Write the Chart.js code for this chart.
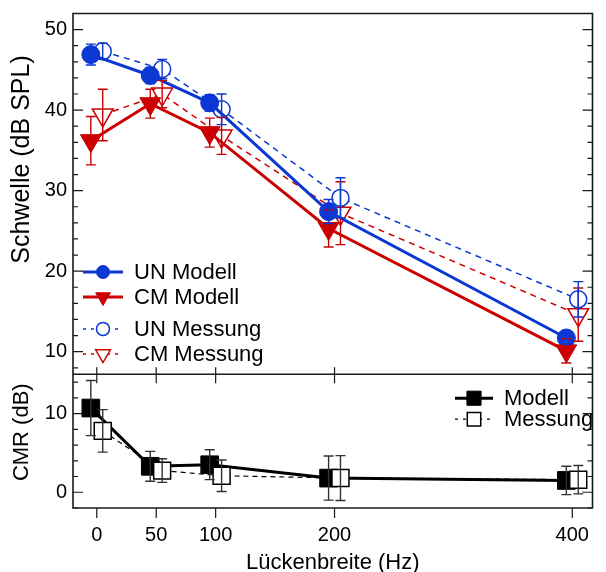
<!DOCTYPE html>
<html>
<head>
<meta charset="utf-8">
<script src="https://cdn.jsdelivr.net/npm/chart.js@4/dist/chart.umd.min.js"></script>
<style>
  html, body { margin: 0; padding: 0; background: #fff; }
  #wrap { width: 606px; height: 572px; }
</style>
</head>
<body>
<div id="wrap"><canvas id="cmrChart" width="606" height="572"></canvas></div>
<script>
"use strict";

// gap widths (Hz) and thresholds
const gapWidths   = [0, 50, 100, 200, 400];
const unModell    = [46.9, 44.3, 40.9, 27.4, 11.7];
const unModellErr = [1.3, 1.0, 1.0, 1.5, 0.8];
const cmModell    = [36.2, 40.8, 37.2, 25.3, 10.1];
const cmModellErr = [3.0, 1.8, 1.8, 2.3, 1.5];
const unMessung    = [47.3, 45.1, 40.1, 29.1, 16.5];
const unMessungErr = [1.0, 1.2, 1.9, 2.5, 2.2];
const cmMessung    = [39.4, 42.0, 36.8, 27.2, 14.6];
const cmMessungErr = [3.2, 1.7, 2.3, 3.9, 3.3];

// CMR panel
const cmrModell     = [10.7, 3.3, 3.5, 1.8, 1.5];
const cmrModellErr  = [3.5, 1.9, 1.9, 2.8, 1.8];
const cmrMessung    = [7.8, 2.75, 2.1, 1.8, 1.6];
const cmrMessungErr = [2.7, 1.5, 2.0, 2.85, 1.8];

// tick labels
const xTicks   = [0, 50, 100, 200, 400];
const yTicks   = [10, 20, 30, 40, 50];
const cmrTicks = [0, 10];

const BLUE = "#0b37d2";
const RED  = "#cc0000";
const FONT = "'Liberation Sans', Arial, Helvetica, sans-serif";

// model markers sit a little left of the tick, measurements a little right
const SHIFT_MODEL = -5;
const SHIFT_MESS  = 5;

function pts(vals, shift) {
  return gapWidths.map((g, i) => ({ x: g + shift, y: vals[i] }));
}

function noPad(s) {
  s.paddingLeft = 0; s.paddingRight = 0; s.paddingTop = 0; s.paddingBottom = 0;
}

Chart.defaults.font.family = FONT;
Chart.defaults.font.size = 20;
Chart.defaults.color = "#000";

const errorBars = {
  id: "errorBars",
  afterDatasetsDraw(chart) {
    const ctx = chart.ctx;
    chart.data.datasets.forEach((ds, i) => {
      if (!ds.err) return;
      const meta = chart.getDatasetMeta(i);
      const ys = chart.scales[ds.yAxisID];
      ctx.save();
      ctx.strokeStyle = ds.errColor || ds.borderColor;
      ctx.lineWidth = 1.4;
      ctx.setLineDash([]);
      ctx.beginPath();
      meta.data.forEach((pt, j) => {
        const v = ds.data[j].y;
        const top = ys.getPixelForValue(v + ds.err[j]);
        const bot = ys.getPixelForValue(v - ds.err[j]);
        ctx.moveTo(pt.x, top); ctx.lineTo(pt.x, bot);
        ctx.moveTo(pt.x - 5, top); ctx.lineTo(pt.x + 5, top);
        ctx.moveTo(pt.x - 5, bot); ctx.lineTo(pt.x + 5, bot);
      });
      ctx.stroke();
      ctx.restore();
    });
  }
};

const frame = {
  id: "frame",
  beforeDatasetsDraw(chart) {
    const { ctx, chartArea: a, scales: { x, y, cmr } } = chart;
    ctx.save();
    ctx.strokeStyle = "#1a1a1a";
    ctx.lineWidth = 1.6;
    ctx.beginPath();
    ctx.rect(a.left, y.top, a.right - a.left, y.bottom - y.top);
    ctx.moveTo(a.left, cmr.top); ctx.lineTo(a.left, cmr.bottom);
    ctx.lineTo(a.right, cmr.bottom); ctx.lineTo(a.right, cmr.top);
    ctx.stroke();

    ctx.lineWidth = 1.2;
    ctx.beginPath();
    const sideTicks = (sc) => {
      for (let v = Math.ceil(sc.min / 2) * 2; v <= sc.max; v += 2) {
        const py = sc.getPixelForValue(v);
        const len = v % 10 === 0 ? 10 : 5;
        ctx.moveTo(a.left, py);  ctx.lineTo(a.left + len, py);
        ctx.moveTo(a.right, py); ctx.lineTo(a.right - len, py);
      }
    };
    sideTicks(y);
    sideTicks(cmr);
    xTicks.forEach(g => {
      const px = x.getPixelForValue(g);
      ctx.moveTo(px, y.bottom - 7); ctx.lineTo(px, y.bottom + 9);
      ctx.moveTo(px, cmr.bottom);   ctx.lineTo(px, cmr.bottom + 10);
    });
    ctx.stroke();
    ctx.restore();
  }
};

// rotated y-axis titles, placed like in the original figure
const sideTitles = {
  id: "sideTitles",
  afterDraw(chart) {
    const { ctx, scales: { y, cmr } } = chart;
    const items = [
      { text: "Schwelle (dB SPL)", cy: y.top + 146, size: 25 },
      { text: "CMR (dB)", cy: cmr.top + 58, size: 22 }
    ];
    ctx.save();
    ctx.fillStyle = "#000";
    ctx.textAlign = "center";
    ctx.textBaseline = "middle";
    items.forEach(t => {
      ctx.save();
      ctx.translate(22, t.cy);
      ctx.rotate(-Math.PI / 2);
      ctx.font = t.size + "px " + FONT;
      ctx.fillText(t.text, 0, 0);
      ctx.restore();
    });
    ctx.restore();
  }
};

function marker(ctx, ds, radius, px, py) {
  const opts = { pointStyle: ds.pointStyle, rotation: ds.pointRotation || 0, radius, borderWidth: ds.pointBorderWidth || 1 };
  ctx.fillStyle = ds.pointBackgroundColor;
  ctx.strokeStyle = ds.borderColor;
  ctx.lineWidth = opts.borderWidth;
  ctx.setLineDash([]);
  if (Chart.helpers && Chart.helpers.drawPoint) {
    Chart.helpers.drawPoint(ctx, opts, px, py);
  } else {
    ctx.beginPath(); ctx.arc(px, py, radius, 0, Math.PI * 2); ctx.fill(); ctx.stroke();
  }
}

const legendBox = {
  id: "legendBox",
  afterDraw(chart) {
    const { ctx, chartArea: a, scales: { cmr } } = chart;
    const ds = chart.data.datasets;
    const byLabel = l => ds.find(d => d.label === l);
    const rows = [
      { label: "UN Modell",  x: a.left + 10, y: 272, w: 40, r: 6.5 },
      { label: "CM Modell",  x: a.left + 10, y: 297, w: 40, r: 8.5 },
      { label: "UN Messung", x: a.left + 10, y: 329, w: 40, r: 6.5 },
      { label: "CM Messung", x: a.left + 10, y: 354, w: 40, r: 8.5 },
      { label: "Modell",  key: "CMR Modell",  x: 455, y: cmr.top + 24, w: 38, r: 10 },
      { label: "Messung", key: "CMR Messung", x: 455, y: cmr.top + 45, w: 38, r: 9.5 }
    ];
    ctx.save();
    rows.forEach(row => {
      const d = byLabel(row.key || row.label);
      const mid = row.x + row.w / 2;
      ctx.strokeStyle = d.borderColor;
      ctx.lineWidth = d.borderWidth;
      ctx.setLineDash(d.borderDash ? [3, 5] : []);
      ctx.beginPath();
      ctx.moveTo(row.x, row.y); ctx.lineTo(row.x + row.w, row.y);
      ctx.stroke();
      marker(ctx, d, row.r, mid, row.y);
      ctx.fillStyle = "#000";
      ctx.font = "22px " + FONT;
      ctx.textBaseline = "middle";
      ctx.textAlign = "left";
      ctx.fillText(row.label, row.x + row.w + 11, row.y + 1);
    });
    ctx.restore();
  }
};

new Chart(document.getElementById("cmrChart"), {
  type: "line",
  data: {
    datasets: [
      { label: "CM Modell", yAxisID: "y", data: pts(cmModell, SHIFT_MODEL), err: cmModellErr,
        borderColor: RED, borderWidth: 3, pointStyle: "triangle", pointRotation: 180, pointRadius: 12,
        pointBackgroundColor: RED, pointBorderColor: RED, pointBorderWidth: 1 },
      { label: "UN Modell", yAxisID: "y", data: pts(unModell, SHIFT_MODEL), err: unModellErr,
        borderColor: BLUE, borderWidth: 3, pointStyle: "circle", pointRadius: 9,
        pointBackgroundColor: BLUE, pointBorderColor: BLUE, pointBorderWidth: 1 },
      { label: "CM Messung", yAxisID: "y", data: pts(cmMessung, SHIFT_MESS), err: cmMessungErr,
        borderColor: RED, borderWidth: 1.5, borderDash: [6, 5], pointStyle: "triangle", pointRotation: 180, pointRadius: 12,
        pointBackgroundColor: "#fff", pointBorderColor: RED, pointBorderWidth: 1.5 },
      { label: "UN Messung", yAxisID: "y", data: pts(unMessung, SHIFT_MESS), err: unMessungErr,
        borderColor: BLUE, borderWidth: 1.5, borderDash: [6, 5], pointStyle: "circle", pointRadius: 8.5,
        pointBackgroundColor: "#fff", pointBorderColor: BLUE, pointBorderWidth: 1.5 },
      { label: "CMR Messung", yAxisID: "cmr", data: pts(cmrMessung, SHIFT_MESS), err: cmrMessungErr, errColor: "#333",
        borderColor: "#000", borderWidth: 1.2, borderDash: [5, 4], pointStyle: "rect", pointRadius: 12,
        pointBackgroundColor: "#fff", pointBorderColor: "#000", pointBorderWidth: 1.5 },
      { label: "CMR Modell", yAxisID: "cmr", data: pts(cmrModell, SHIFT_MODEL), err: cmrModellErr, errColor: "#333",
        borderColor: "#000", borderWidth: 3, pointStyle: "rect", pointRadius: 12.5,
        pointBackgroundColor: "#000", pointBorderColor: "#000", pointBorderWidth: 1 }
    ]
  },
  options: {
    responsive: false,
    animation: false,
    events: [],
    devicePixelRatio: 1,
    layout: { padding: { top: 9, right: 1, left: 0, bottom: 0 } },
    plugins: { legend: { display: false }, tooltip: { enabled: false } },
    elements: { line: { tension: 0 } },
    scales: {
      x: {
        type: "linear", position: "bottom", min: -20, max: 417,
        afterBuildTicks: s => { s.ticks = xTicks.map(v => ({ value: v })); },
        afterFit: s => { s.height = 64; noPad(s); },
        grid: { display: false, drawTicks: false },
        border: { display: false },
        ticks: { padding: 15, font: { size: 20 } },
        title: { display: true, text: "Lückenbreite (Hz)", font: { size: 22, lineHeight: 0.8 }, padding: 0 }
      },
      cmr: {
        type: "linear", position: "left", stack: "panels", stackWeight: 135, min: -2, max: 15,
        afterBuildTicks: s => { s.ticks = cmrTicks.map(v => ({ value: v })); },
        afterFit: s => { s.width = 73; noPad(s); },
        grid: { display: false, drawTicks: false },
        border: { display: false },
        ticks: { padding: 6, font: { size: 20 } },
        title: { display: false }
      },
      y: {
        type: "linear", position: "left", stack: "panels", stackWeight: 364, min: 7.2, max: 52,
        afterBuildTicks: s => { s.ticks = yTicks.map(v => ({ value: v })); },
        afterFit: s => { s.width = 73; noPad(s); },
        grid: { display: false, drawTicks: false },
        border: { display: false },
        ticks: { padding: 6, font: { size: 20 } },
        title: { display: false }
      }
    }
  },
  plugins: [frame, errorBars, sideTitles, legendBox]
});
</script>
</body>
</html>
